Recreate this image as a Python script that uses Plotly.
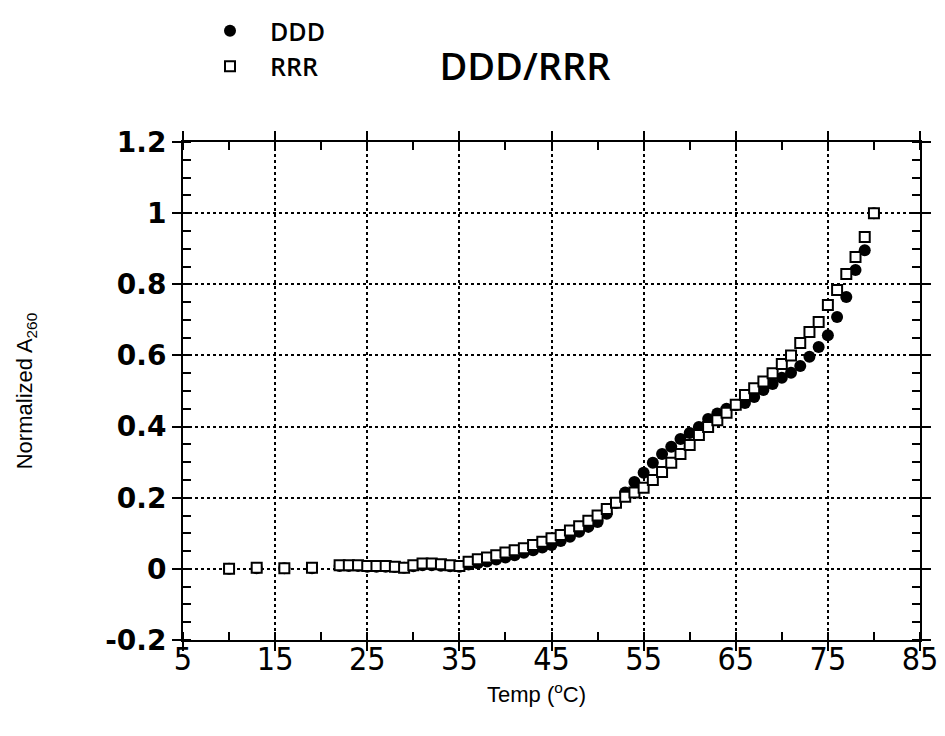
import plotly.graph_objects as go

temps = [10, 13, 16, 19] + list(range(22, 81))

rrr = [0.0, 0.003, 0.002, 0.003,
       0.010, 0.010, 0.010, 0.008, 0.008, 0.008, 0.006, 0.003, 0.010, 0.015,
       0.015, 0.013, 0.010, 0.008, 0.020, 0.027, 0.032, 0.038, 0.046, 0.052,
       0.058, 0.067, 0.076, 0.086, 0.095, 0.108, 0.120, 0.135, 0.150, 0.168,
       0.186, 0.203, 0.215, 0.228, 0.250, 0.272, 0.298, 0.323, 0.348, 0.376,
       0.399, 0.418, 0.439, 0.461, 0.489, 0.508, 0.527, 0.550, 0.576, 0.600,
       0.635, 0.666, 0.694, 0.742, 0.784, 0.829, 0.877, 0.933, 1.000]

ddd = [0.0, 0.002, 0.002, 0.002,
       0.008, 0.008, 0.008, 0.006, 0.006, 0.006, 0.005, 0.003, 0.007, 0.010,
       0.010, 0.009, 0.007, 0.006, 0.012, 0.016, 0.021, 0.026, 0.032, 0.038,
       0.045, 0.052, 0.060, 0.067, 0.078, 0.090, 0.104, 0.118, 0.132, 0.155,
       0.185, 0.215, 0.244, 0.270, 0.298, 0.323, 0.343, 0.365, 0.382, 0.399,
       0.421, 0.437, 0.450, 0.460, 0.466, 0.483, 0.503, 0.520, 0.537, 0.551,
       0.570, 0.596, 0.624, 0.657, 0.708, 0.764, 0.840, 0.896, 1.000]

x_ticks = [5, 15, 25, 35, 45, 55, 65, 75, 85]
y_ticks = [-0.2, 0, 0.2, 0.4, 0.6, 0.8, 1, 1.2]
y_labels = ["-0.2", "0", "0.2", "0.4", "0.6", "0.8", "1", "1.2"]

fig = go.Figure()
fig.add_trace(go.Scatter(
    x=temps, y=ddd, mode="markers", name="DDD",
    marker=dict(symbol="circle", size=12, color="black",
                line=dict(color="black", width=0))))
fig.add_trace(go.Scatter(
    x=temps, y=rrr, mode="markers", name="RRR",
    marker=dict(symbol="square", size=10, color="white",
                line=dict(color="black", width=2))))

axis_common = dict(
    showline=True, linecolor="black", linewidth=2, mirror="allticks",
    showgrid=True, gridcolor="black", gridwidth=1.5, griddash="dot",
    zeroline=False, ticks="outside", ticklen=9, tickwidth=2, tickcolor="black",
)

fig.update_xaxes(
    range=[5, 85], tickvals=x_ticks, ticktext=[str(v) for v in x_ticks],
    tickfont=dict(family="DejaVu Sans Condensed, DejaVu Sans, sans-serif",
                  size=32, color="black"),
    ticklabelstandoff=-19,
    minor=dict(ticks="inside", ticklen=8, tickwidth=1.5, tickcolor="black",
               tick0=5, dtick=5, showgrid=False),
    **axis_common)

fig.update_yaxes(
    range=[-0.2, 1.2], tickvals=y_ticks, ticktext=y_labels,
    tickfont=dict(family="DejaVu Sans, sans-serif", size=28, color="black",
                  weight="bold"),
    title=dict(text="Normalized A<sub>260</sub>", standoff=66,
               font=dict(family="Liberation Sans, Arial, sans-serif",
                         size=22, color="black")),
    minor=dict(ticks="inside", ticklen=8, tickwidth=1.5, tickcolor="black",
               tick0=0, dtick=0.05, showgrid=False),
    **axis_common)

fig.add_annotation(
    text="Temp (<sup>o</sup>C)", xref="paper", yref="paper",
    x=(536 - 183) / 737, y=(640 - 693) / 498, xanchor="center", yanchor="middle",
    showarrow=False,
    font=dict(family="Liberation Sans, Arial, sans-serif", size=22, color="black"))

fig.update_layout(
    width=945, height=736,
    margin=dict(l=183, r=25, t=142, b=96, autoexpand=False),
    plot_bgcolor="white", paper_bgcolor="white",
    title=dict(text="DDD/RRR", x=525 / 945, xanchor="center",
               y=1 - 67 / 736, yanchor="middle",
               font=dict(family="Open Sans, DejaVu Sans, sans-serif", size=38,
                         color="black", weight=600)),
    legend=dict(x=(190 - 183) / 737, xanchor="left",
                y=1 + (142 - 8) / 498, yanchor="top",
                font=dict(family="Open Sans, DejaVu Sans, sans-serif", size=25,
                          color="black", weight=600),
                bgcolor="rgba(0,0,0,0)", tracegroupgap=0, itemwidth=70),
    showlegend=True,
)

fig.write_html("out.html")
